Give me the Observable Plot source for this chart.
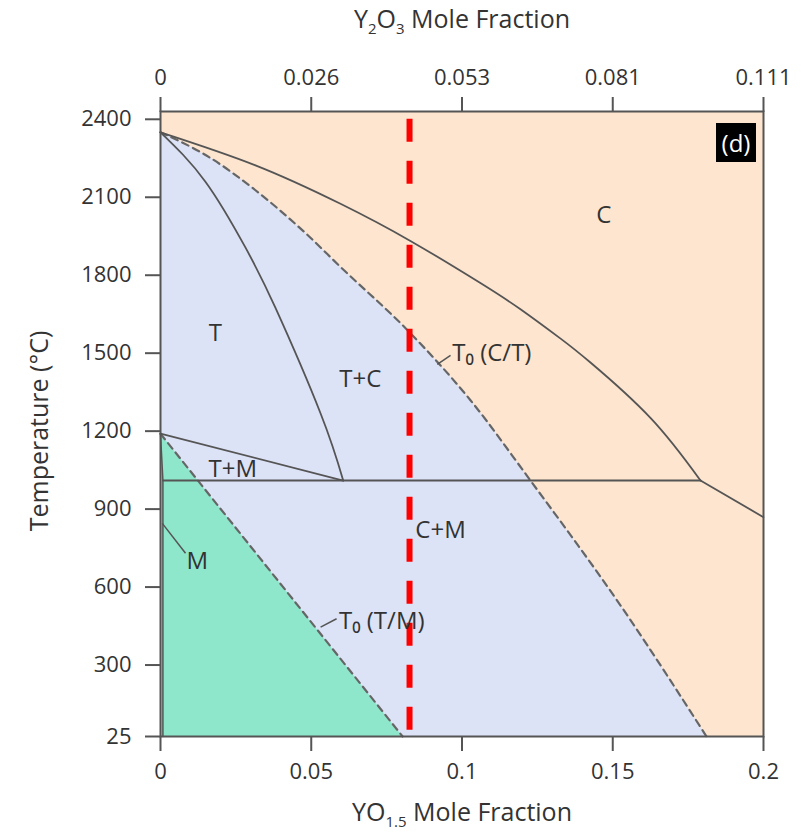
<!DOCTYPE html>
<html><head><meta charset="utf-8">
<script src="https://cdn.jsdelivr.net/npm/d3@7"></script>
<script src="https://cdn.jsdelivr.net/npm/@observablehq/plot@0.6"></script>
<style>
body{margin:0;background:#fff;}
#wrap{position:relative;width:808px;height:835px;}
#tag{position:absolute;left:716px;top:123px;width:40px;height:39px;background:#000;color:#fff;font:24px 'Open Sans',sans-serif;display:flex;align-items:center;justify-content:center;line-height:1;}
</style></head><body><div id="wrap"><div id="tag">(d)</div></div>
<script>
// ---- tick labels ----
const xTicks = [0, 0.05, 0.1, 0.15, 0.2];
const xTickLabels = ["0", "0.05", "0.1", "0.15", "0.2"];
const topTickLabels = ["0", "0.026", "0.053", "0.081", "0.111"];
const yTicks = [25, 300, 600, 900, 1200, 1500, 1800, 2100, 2400];
const yDomain = [25, 2430];
const xDomain = [0, 0.2];

// ---- boundaries (YO1.5 fraction, temperature °C) ----
const cBoundX = [0, 0.0315, 0.0597, 0.0829, 0.1061, 0.1194, 0.1327, 0.1426, 0.1625, 0.1791];
const cBoundT = [2350, 2223, 2075, 1932, 1770, 1669, 1556, 1464, 1251, 1010];
const cTailX = [0.1791, 0.2];
const cTailT = [1010, 869];
const tBoundX = [0, 0.0149, 0.0282, 0.0381, 0.0531, 0.0606];
const tBoundT = [2350, 2160, 1906, 1675, 1268, 1010];
const tmBoundX = [0, 0.0606];
const tmBoundT = [1190, 1010];
const eutX = [0.0008, 0.1791];
const eutT = [1010, 1010];
const mBoundX = [0, 0.0008, 0.0008];
const mBoundT = [1190, 1010, 25];
const t0ctX = [0, 0.0166, 0.0315, 0.0481, 0.0597, 0.0823, 0.1028, 0.1227, 0.1526, 0.1811];
const t0ctT = [2350, 2251, 2127, 1962, 1832, 1584, 1319, 1010, 529, 25];
const t0tmX = [0, 0.0803];
const t0tmT = [1190, 25];
const redX = [0.0826];

// ---- labels ----
const regionNames = ["C", "T", "T+C", "T+M", "C+M", "M"];
const regionX = [0.147, 0.0182, 0.0663, 0.0240, 0.0929, 0.0122];
const regionT = [2031, 1577, 1400, 1053, 818, 699];
const noteNames = ["T\u2080 (C/T)", "T\u2080 (T/M)"];
const noteX = [0.0968, 0.0592];
const noteT = [1500, 468];
const leadX1 = [0.0918, 0.0531, 0.0006];
const leadT1 = [1457, 446, 845];
const leadX2 = [0.0962, 0.0584, 0.0083];
const leadT2 = [1492, 478, 730];

const pts = (xs, ts) => xs.map((x, i) => ({x, T: ts[i]}));
const regions = regionNames.map((s, i) => ({s, x: regionX[i], T: regionT[i]}));
const notes = noteNames.map((s, i) => ({s, x: noteX[i], T: noteT[i]}));
const leads = leadX1.map((x1, i) => ({x1, y1: leadT1[i], x2: leadX2[i], y2: leadT2[i]}));

const orange = "#fde5cf", blue = "#dde3f7", green = "#8ee7cb";
const lineC = "#555", font = "'Open Sans', sans-serif";
const yMin = yDomain[0];

const chart = Plot.plot({
  width: 808, height: 835,
  marginLeft: 160, marginRight: 45, marginTop: 111, marginBottom: 99,
  x: {domain: xDomain},
  y: {domain: yDomain},
  style: {fontFamily: font, fontSize: "22px", color: "#333", background: "transparent"},
  marks: [
    Plot.frame({fill: orange}),
    Plot.areaY(pts(t0ctX, t0ctT), {x: "x", y1: yMin, y2: "T", fill: blue, curve: "monotone-x"}),
    Plot.areaY(pts(t0tmX, t0tmT), {x: "x", y1: yMin, y2: "T", fill: green}),
    Plot.line(pts(t0ctX, t0ctT), {x: "x", y: "T", stroke: "#666", strokeWidth: 2.2, strokeDasharray: "7,5", curve: "monotone-x"}),
    Plot.line(pts(t0tmX, t0tmT), {x: "x", y: "T", stroke: "#666", strokeWidth: 2.2, strokeDasharray: "7,5"}),
    Plot.line(pts(cBoundX, cBoundT), {x: "x", y: "T", stroke: lineC, strokeWidth: 1.8, curve: "natural"}),
    Plot.line(pts(cTailX, cTailT), {x: "x", y: "T", stroke: lineC, strokeWidth: 1.8}),
    Plot.line(pts(tBoundX, tBoundT), {x: "x", y: "T", stroke: lineC, strokeWidth: 1.8, curve: "natural"}),
    Plot.line(pts(tmBoundX, tmBoundT), {x: "x", y: "T", stroke: lineC, strokeWidth: 1.8}),
    Plot.line(pts(eutX, eutT), {x: "x", y: "T", stroke: lineC, strokeWidth: 1.8}),
    Plot.line(pts(mBoundX, mBoundT), {x: "x", y: "T", stroke: lineC, strokeWidth: 1.5}),
    Plot.link(leads, {x1: "x1", y1: "y1", x2: "x2", y2: "y2", stroke: lineC, strokeWidth: 1.5}),
    Plot.ruleX(redX, {y1: 2400, y2: yMin, stroke: "#ff0000", strokeWidth: 6, strokeDasharray: "23,19"}),
    Plot.frame({stroke: "#555", strokeWidth: 2}),
    Plot.axisX(xTicks, {anchor: "bottom", label: null, tickSize: 15, tickPadding: 12, stroke: "#555", strokeWidth: 2, fontSize: 22,
      tickFormat: d => xTickLabels[xTicks.indexOf(d)]}),
    Plot.axisX(xTicks, {anchor: "top", label: null, tickSize: 15, tickPadding: 12, stroke: "#555", strokeWidth: 2, fontSize: 22,
      tickFormat: d => topTickLabels[xTicks.indexOf(d)]}),
    Plot.axisY(yTicks, {anchor: "left", label: null, tickSize: 15, tickPadding: 14, stroke: "#555", strokeWidth: 2, fontSize: 22,
      tickFormat: d => String(d)}),
    Plot.text(regions, {x: "x", y: "T", text: "s", fontSize: 24, fill: "#333"}),
    Plot.text(notes, {x: "x", y: "T", text: "s", fontSize: 24, fill: "#333", textAnchor: "start"})
  ]
});
document.getElementById("wrap").prepend(chart);

// axis titles with real subscripts
const svg = d3.select(chart);
function title(x, y, parts, rotate) {
  const t = svg.append("text").attr("text-anchor", "middle").attr("fill", "#333")
    .attr("font-family", font).attr("font-size", 25)
    .attr("transform", `translate(${x},${y})` + (rotate ? " rotate(-90)" : ""));
  parts.forEach(([s, sub]) => {
    const ts = t.append("tspan").text(s);
    if (sub) ts.attr("font-size", 15).attr("dy", 6);
    else ts.attr("dy", t.node().childNodes.length > 1 ? -6 : 0);
  });
}
title(462, 28, [["Y"], ["2", 1], ["O"], ["3", 1], [" Mole Fraction"]]);
title(462, 821, [["YO"], ["1.5", 1], [" Mole Fraction"]]);
title(48, 431, [["Temperature (°C)"]], true);
</script></body></html>
